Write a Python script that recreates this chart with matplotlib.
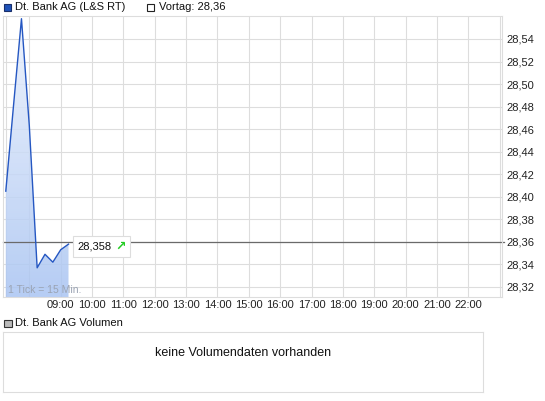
import numpy as np
import matplotlib
matplotlib.use("Agg")
import matplotlib.pyplot as plt
from matplotlib.colors import LinearSegmentedColormap
from matplotlib.patches import Rectangle, PathPatch
from matplotlib.offsetbox import TextArea, HPacker, AnnotationBbox

plt.rcParams["font.family"] = ["Liberation Sans", "DejaVu Sans"]

# Intraday quotes, one tick = 15 min
times = ["07:15", "07:30", "07:45", "08:00", "08:15", "08:30", "08:45", "09:00", "09:15"]
prices = [28.405, 28.482, 28.558, 28.463, 28.337, 28.349, 28.342, 28.353, 28.358]
prev_close = 28.36
last_label = "28,358"

hour_ticks = list(range(9, 23))
grid_hours = list(range(8, 24))
price_ticks = [28.32, 28.34, 28.36, 28.38, 28.40, 28.42, 28.44, 28.46, 28.48, 28.50, 28.52, 28.54]

t = [int(s[:2]) + int(s[3:]) / 60 for s in times]

W, H = 545, 401
fig = plt.figure(figsize=(W / 100, H / 100), dpi=100)


def px_axes(x0, y0, x1, y1):
    return fig.add_axes([x0 / W, 1 - y1 / H, (x1 - x0) / W, (y1 - y0) / H])


def fig_box(x0, y0, x1, y1, fc, ec):
    fig.add_artist(Rectangle((x0 / W, 1 - y1 / H), (x1 - x0) / W, (y1 - y0) / H,
                             transform=fig.transFigure, fc=fc, ec=ec, lw=0.8))


grid_c = "#dddddd"

# --- price chart ---
ax = px_axes(3, 16, 502, 297)
xlim = (7.161, 23.073)
ylim = (28.3111, 28.5604)

for p in price_ticks:
    ax.axhline(p, color=grid_c, lw=0.8, zorder=0)
for h in grid_hours + [t[0]]:
    ax.axvline(h, color=grid_c, lw=0.8, zorder=0)

# gradient area under the line
area = ax.fill_between(t, prices, ylim[0], color="none", lw=0)
cmap = LinearSegmentedColormap.from_list("area", ["#a9c4f2", "#ecf2fd"])
grad = np.linspace(0, 1, 256).reshape(-1, 1)
img = ax.imshow(grad, extent=[xlim[0], xlim[1], ylim[0], ylim[1]], origin="lower",
                aspect="auto", cmap=cmap, alpha=0.85, zorder=1)
clip = PathPatch(area.get_paths()[0], transform=ax.transData, fc="none", ec="none")
ax.add_patch(clip)
img.set_clip_path(clip)

ax.plot(t, prices, color="#2557c2", lw=1.0, zorder=3)
ax.axhline(prev_close, xmax=1.005, color="#6a6a6a", lw=0.9, zorder=2, clip_on=False)

ax.set_xlim(*xlim)
ax.set_ylim(*ylim)

ax.set_xticks(hour_ticks, [f"{h:02d}:00" for h in hour_ticks])
ax.yaxis.tick_right()
ax.set_yticks(price_ticks, [f"{p:.2f}".replace(".", ",") for p in price_ticks])
ax.tick_params(axis="x", length=0, pad=2.5, labelsize=8, labelcolor="#222222")
ax.tick_params(axis="y", length=0, pad=3.5, labelsize=8, labelcolor="#222222")
for s in ax.spines.values():
    s.set_color(grid_c)
    s.set_linewidth(0.8)

ax.text(0.011, 0.025, "1 Tick = 15 Min.", transform=ax.transAxes, fontsize=7.5,
        color="#9aa3b3", va="center", ha="left", zorder=4)

# last price label
label_box = HPacker(children=[
    TextArea(last_label, textprops=dict(fontsize=8, color="#111111")),
    TextArea("\u2197", textprops=dict(fontsize=9, color="#22cc22", fontweight="bold",
                                      family="DejaVu Sans")),
], align="center", pad=0, sep=2.5)
ab = AnnotationBbox(label_box, (t[-1], prices[-1]), xybox=(6.5, -1.7),
                    xycoords="data", boxcoords="offset points", box_alignment=(0, 0.5),
                    frameon=True, pad=0.3,
                    bboxprops=dict(boxstyle="square", fc="white", ec=grid_c, lw=0.8))
ab.set_zorder(5)
ax.add_artist(ab)

# --- legend row ---
fig_box(3.5, 3.5, 11, 11, "#1f52b8", "#1a2f6a")
fig.text(15 / W, 1 - 7.5 / H, "Dt. Bank AG (L&S RT)", fontsize=8, va="center", color="#111111")
fig_box(146.5, 3.5, 154, 11, "white", "#222222")
fig.text(159 / W, 1 - 7.5 / H, "Vortag: " + f"{prev_close:.2f}".replace(".", ","),
         fontsize=8, va="center", color="#111111")

# --- volume panel ---
fig_box(4, 319.5, 11.5, 327, "#bbbbbb", "#333333")
fig.text(15 / W, 1 - 323.5 / H, "Dt. Bank AG Volumen", fontsize=8, va="center", color="#111111")
vax = px_axes(3, 332, 483, 392)
vax.set_xticks([])
vax.set_yticks([])
for s in vax.spines.values():
    s.set_color(grid_c)
    s.set_linewidth(0.8)
vax.text(0.5, 0.65, "keine Volumendaten vorhanden", transform=vax.transAxes,
         ha="center", va="center", fontsize=9, color="#111111")

fig.savefig("out.png", dpi=100)
